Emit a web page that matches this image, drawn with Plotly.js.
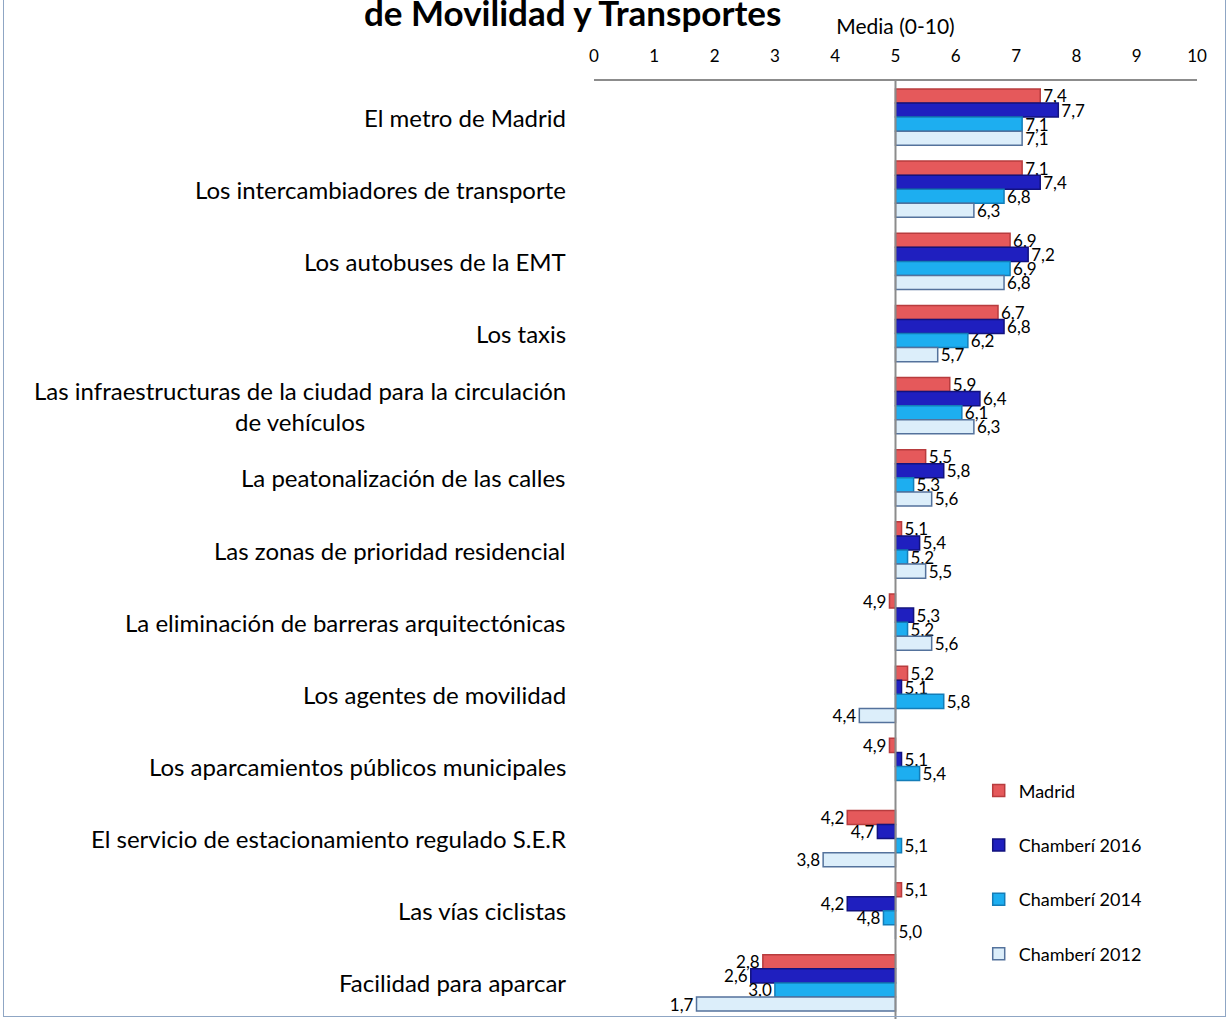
<!DOCTYPE html>
<html><head><meta charset="utf-8">
<script src="https://cdn.plot.ly/plotly-3.0.1.min.js"></script>
<style>
html,body{margin:0;padding:0;background:#fff;}
#wrap{position:relative;width:1229px;height:1023px;overflow:hidden;}
#frame{position:absolute;left:3px;top:-5px;width:1221px;height:1020px;border:1px solid #8FA6C4;pointer-events:none;}
#chart{width:1229px;height:1023px;}
</style></head>
<body><div id="wrap"><div id="chart"></div><div id="frame"></div></div>
<script>
const categories = [
  "El metro de Madrid",
  "Los intercambiadores de transporte",
  "Los autobuses de la EMT",
  "Los taxis",
  "Las infraestructuras de la ciudad para la circulación<br>de vehículos",
  "La peatonalización de las calles",
  "Las zonas de prioridad residencial",
  "La eliminación de barreras arquitectónicas",
  "Los agentes de movilidad",
  "Los aparcamientos públicos municipales",
  "El servicio de estacionamiento regulado S.E.R",
  "Las vías ciclistas",
  "Facilidad para aparcar"
];
const madrid     = [7.4, 7.1, 6.9, 6.7, 5.9, 5.5, 5.1, 4.9, 5.2, 4.9, 4.2, 5.1, 2.8];
const chamb2016  = [7.7, 7.4, 7.2, 6.8, 6.4, 5.8, 5.4, 5.3, 5.1, 5.1, 4.7, 4.2, 2.6];
const chamb2014  = [7.1, 6.8, 6.9, 6.2, 6.1, 5.3, 5.2, 5.2, 5.8, 5.4, 5.1, 4.8, 3.0];
const chamb2012  = [7.1, 6.3, 6.8, 5.7, 6.3, 5.6, 5.5, 5.6, 4.4, null, 3.8, 5.0, 1.7];
const seriesNames = ["Madrid", "Chamberí 2016", "Chamberí 2014", "Chamberí 2012"];
const tickVals = [0,1,2,3,4,5,6,7,8,9,10];
const midpoint = 5;

const FONT = "Lato, 'Open Sans', sans-serif";
const styles = [
  {fill:"#E5595B", line:"#B83C3E"},
  {fill:"#1F1FBF", line:"#12127E"},
  {fill:"#1DAEF0", line:"#137DB8"},
  {fill:"#DCEEFA", line:"#54729C"}
];
const allSeries = [madrid, chamb2016, chamb2014, chamb2012];
const fmt = v => (v === null ? "" : v.toFixed(1).replace(".", ","));

const traces = allSeries.map((vals, i) => ({
  type: "bar",
  orientation: "h",
  name: seriesNames[i],
  legendgroup: "g" + i,
  y: categories,
  x: vals.map(v => v === null ? null : v - midpoint),
  base: midpoint,
  text: vals.map(fmt),
  textposition: "outside",
  constraintext: "none",
  cliponaxis: false,
  textfont: {family: FONT, size: 17, color: "#000"},
  marker: {color: styles[i].fill, line: {color: styles[i].line, width: 1.5}},
  hoverinfo: "skip"
}));

const annotations = categories.map(c => ({
  xref: "paper", yref: "y", x: -0.043, y: c,
  text: c, showarrow: false, xanchor: "right", yanchor: "middle",
  align: "center", font: {family: FONT, size: 24, color: "#000"}
}));

const layout = {
  width: 1229, height: 1023,
  margin: {l: 594, r: 32, t: 81, b: 4},
  paper_bgcolor: "#fff", plot_bgcolor: "#fff",
  barmode: "group", bargap: 0.22, bargroupgap: 0,
  title: {text: "<b>de Movilidad y Transportes</b>", x: 0.466, xanchor: "center", xref: "container",
          y: 0.987, yanchor: "middle", yref: "container",
          font: {family: FONT, size: 35, color: "#000"}},
  xaxis: {
    side: "top", range: [0, 10], tickvals: tickVals, ticktext: tickVals.map(String),
    showgrid: false, zeroline: false, showline: true, linecolor: "#8c8c8c", linewidth: 2,
    ticks: "", ticklabelstandoff: 10,
    tickfont: {family: FONT, size: 17, color: "#000"},
    title: {text: "Media (0-10)", standoff: 5, font: {family: FONT, size: 21, color: "#000"}}
  },
  yaxis: {
    type: "category", autorange: "reversed", showticklabels: false,
    showgrid: false, zeroline: false, showline: false, ticks: ""
  },
  shapes: [{type: "line", xref: "x", yref: "paper", x0: midpoint, x1: midpoint, y0: 0, y1: 1,
            line: {color: "#8c8c8c", width: 2}}],
  annotations: annotations,
  showlegend: true,
  legend: {x: 0.638, y: 0.263, xanchor: "left", yanchor: "top", traceorder: "grouped",
           tracegroupgap: 28, bgcolor: "rgba(0,0,0,0)",
           font: {family: FONT, size: 18, color: "#000"}, itemwidth: 30}
};

Plotly.newPlot("chart", traces, layout, {displayModeBar: false, staticPlot: true});
</script></body></html>
